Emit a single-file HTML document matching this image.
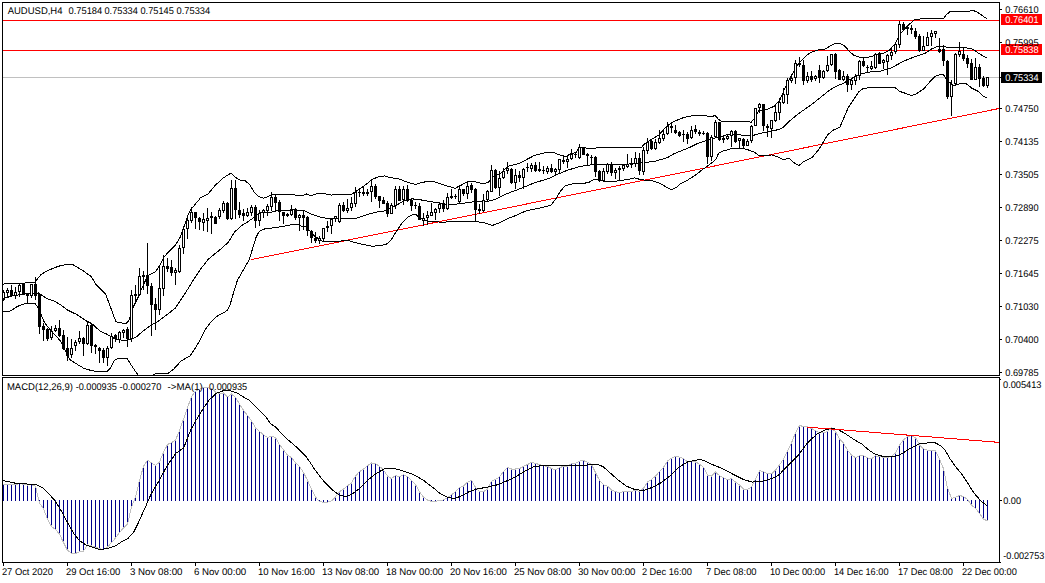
<!DOCTYPE html><html><head><meta charset="utf-8"><title>AUDUSD H4</title>
<style>html,body{margin:0;padding:0;background:#fff}svg{display:block}text{font-family:"Liberation Sans",sans-serif;font-size:9.7px;fill:#000;text-rendering:geometricPrecision}</style></head><body>
<svg width="1045" height="583" viewBox="0 0 1045 583">
<rect width="1045" height="583" fill="#fff"/>
<defs><clipPath id="cm"><rect x="3" y="3" width="996" height="372"/></clipPath><clipPath id="ci"><rect x="3" y="378" width="996" height="184"/></clipPath></defs>
<g shape-rendering="crispEdges">
<g clip-path="url(#cm)">
<line x1="3" y1="77.5" x2="999" y2="77.5" stroke="#c0c0c0"/>
<line x1="3" y1="20.5" x2="999" y2="20.5" stroke="#ff0000"/>
<line x1="3" y1="50.5" x2="999" y2="50.5" stroke="#ff0000"/>
<line x1="251" y1="259.7" x2="999.5" y2="108.4" stroke="#ff0000"/>
<polyline fill="none" stroke="#000" stroke-width="1" points="3,284.2 8,283.4 14,283.9 25,283 35,282 38.4,277.7 41.3,274.3 48,270.5 55,267.5 62,265.2 72,264.2 82.1,270 91.3,276.7 96.4,285 99.9,288.3 105.7,294.3 110.3,306.6 115.7,321.3 118.8,322.8 126.5,323.3 128.8,320.5 131.2,314.3 133.5,306.6 138.1,297.4 141.2,289.6 143.5,285 147.8,275.4 155.5,271.8 160.2,264.9 164,257.1 167.9,252.5 175.6,244.8 180.2,237.1 183.3,229.3 187.2,217 191,209.3 198.8,200 200,198.2 207.7,194.3 215.4,185.1 223.2,178.1 230.9,173 235.5,177.4 240.2,180.1 244.8,180.4 249.4,184.3 254.1,192 258.7,196.7 263.3,198.2 268,196.7 272.6,194 281.9,194 292.7,194.7 301.9,195.9 306.6,194 311.2,195.9 317.4,193.3 323.6,193.6 331.3,195.1 339,194 350.8,194.7 355.4,191.7 364.7,185.5 372.4,179.3 378.6,176.7 384.8,175.9 391,177.8 398.7,178.8 408,182.4 415.7,184.4 423.4,182.1 432.7,181.3 440.4,183.9 448.1,186.3 455.1,188.3 462,184.7 468.2,181.6 474.4,181.6 483.6,183.9 488.3,182.4 492.1,177 500,173.9 507.8,166.4 518.6,163.6 526.3,159.7 534.1,155.6 541.8,153.6 548,152 554.1,152.8 560.3,155.1 566.5,156.7 570.3,153.6 575.8,152.8 578.8,148.2 581.9,147.9 594.3,148.2 597.4,147.9 641.6,147.5 643.9,144.5 650.9,139.8 658.6,135.2 666.3,126.7 672.5,122.1 681.8,118.2 689.5,116.2 697.2,115.1 704.9,115.4 711.1,117.1 715,115.4 718.8,119.7 721.9,121.3 743.6,121.6 751.3,122.1 754.4,118.2 759,110.5 768.3,108.9 774.4,106.2 780.1,99.5 784.7,88.7 789.3,79.4 797.1,65.5 803.2,58.6 809.4,53.2 817.1,50.1 824.9,49.3 831,45.4 835.7,43.1 840.3,43.6 844.9,46.2 849.6,51.6 854.2,55.5 858.8,57 865,57.8 871.2,56.6 877.4,54.4 883.6,53.2 889.3,50.2 895.2,43.8 900.4,33.9 906.8,26.3 913.8,20.5 915,19.3 924.3,18.7 943.6,18.4 946.5,14.7 950,11.7 955.8,11.2 968.6,11.2 972.1,10.6 975.6,11.2 980.3,14.1 986.7,18.7"/>
<polyline fill="none" stroke="#000" stroke-width="1" points="3,301 5,298 12,296 25,294 38.4,293 47.1,298.8 53.8,300.7 60.9,305.1 67.2,309.9 76.3,314.3 87.1,321.3 91.8,323.6 99.5,330.6 107.2,334.4 110.3,336 115,339 122.7,340.3 130.4,339.8 136.6,336.7 142.7,331.3 150.5,325.5 158.2,321.3 164.4,316.7 175.2,308.2 184.4,294.3 187.2,290 194.1,278.8 200.3,269.5 208,259.5 212.7,255.6 220.4,249.4 228.1,242.5 234.3,232.4 240.5,226.3 248.2,221.6 254.4,217 260.2,212.5 268,212.9 275.7,211 280.3,210.6 292.7,209.8 305,211 311.2,214.1 318.9,216.7 328.2,218.7 340,218.5 355.4,218.4 366.3,214.8 378.6,211.7 386.3,210.7 395.6,205.6 404.9,200.5 412.6,198.9 420.3,199.8 432.7,202 440.4,203.2 448.1,204.8 457.4,204 468.2,202.5 475.9,201.4 487,201.5 495.5,199.4 503.2,195.3 510.9,192.2 523.2,187.5 534.1,182.9 549.5,178.3 557.2,174.4 566.5,170.6 578.8,166.7 588.1,165.2 594.3,164.4 625,164.4 644.3,162.7 656,161 667.6,157.5 674.1,153.7 681.8,150.6 689.5,147.5 697.2,143.7 704.9,140.9 714.2,138.3 720.4,136.7 728.1,134.4 737.4,134.1 743.6,135.7 751.3,136 759,133.6 766.7,132.1 774.4,130.6 780,129 783.3,127.4 790.3,120.4 799.6,112.8 809,106.4 814.1,102.6 821.8,96.4 829.5,90.2 835.7,86.4 843.4,83.3 852.7,77.9 860.4,74 871.2,71.7 880,71.2 891.7,67.7 903.3,61.3 915,56.6 924.3,53.7 931.3,49.1 937.1,46.7 943,46.4 950,47.9 959.3,47.9 964,47.3 973.3,49.4 979.1,53.7 986.7,57.8"/>
<polyline fill="none" stroke="#000" stroke-width="1" points="3,311.5 8.6,311.5 12,309.9 17.3,306.5 25.9,303.1 35,303.4 38.4,308.4 41.3,315.1 43.9,321.3 47,326 53.2,332.9 60.9,341.4 68.6,357.6 70.2,359.9 76.3,363.8 84,368.4 91.8,370.7 99.5,371.8 107.2,371.2 110.3,368.4 114.2,360.7 118,358.4 127.3,358.4 130.4,363.8 135,370.7 138.1,375 142,378 150,378 153.6,374.3 158.2,373.3 167.5,373.8 173.6,369.2 181.4,360.7 190,356 195.6,347.6 200,340 205.9,328.7 211,322 216.2,316.7 221,314 226.5,311.5 230,305 234.3,290 237.4,280.3 243.6,269.5 249,260.2 252.8,247.9 255.9,237.8 259,231.7 265.2,228.6 274.4,227.8 280.3,226.8 292.7,224.5 298.8,224.5 301.9,226.8 306.6,226.8 314.3,236 322,241 337.5,241.4 347.7,240.3 355.4,242.6 363.2,244.6 372.4,246.2 380.2,245.7 386.3,244.2 391,240.3 395.6,232.6 401.8,223.3 408,217.1 412.6,214.8 415.7,214 418.8,217.1 424,220 429.6,221.5 437.3,221.8 443.5,222.5 451.2,221 457.4,221.5 475.9,221.5 486.7,223.3 492.1,225.6 500,222.5 508,218.5 517.1,215 526.3,210.7 541.8,207.6 551,205.3 555.7,199.1 560.3,191.4 564.9,186 569.6,184.5 575.8,183.4 588.1,182.9 594.3,179.1 598.9,179.1 603.6,181.4 610.5,181.4 619.8,180.8 629.2,179.1 635,177.9 640.8,179.7 652.5,180.8 660.6,183.7 667.6,187.8 671.7,189.6 675.8,187.8 680.5,183.7 687.5,180.2 695.6,175 701.5,170.3 707.3,166.2 712.7,162.2 715.8,159.1 718.8,153 721.9,151.4 728.1,149.6 732.7,148.3 742,148.3 748.2,149.9 754.4,152.2 759,155.7 763.6,155.3 771.7,155 777.5,156.6 783.3,159.5 789.2,158.3 795,163.6 799.1,165.3 804.3,161.2 811.9,157.7 818.3,150.1 823,142.6 827.6,135 832.3,130.6 839.9,127.1 844,117.5 848.6,107 852.7,101 858.8,91.8 863.5,88.4 871.2,87.5 883.6,87.5 895.3,87.7 899.6,91.4 906,93.5 911.3,95.6 915.5,94.3 924,88.7 929.4,82.3 935.7,76 943.2,74 945.3,77.6 949,82 953.8,85.5 959.1,83.9 965.5,83.2 971.9,88.2 978.3,91.4 983.6,96.7 986.8,97.4"/>
<rect x="3" y="290" width="1" height="11" fill="#000"/>
<rect x="2" y="292" width="3" height="7" fill="#000"/>
<rect x="3" y="293" width="1" height="5" fill="#fff"/>
<rect x="7" y="288" width="1" height="9" fill="#000"/>
<rect x="6" y="290" width="3" height="3" fill="#000"/>
<rect x="7" y="291" width="1" height="1" fill="#fff"/>
<rect x="11" y="285" width="1" height="12" fill="#000"/>
<rect x="10" y="290" width="3" height="6" fill="#000"/>
<rect x="15" y="287" width="1" height="12" fill="#000"/>
<rect x="14" y="292" width="3" height="4" fill="#000"/>
<rect x="15" y="293" width="1" height="2" fill="#fff"/>
<rect x="19" y="284" width="1" height="13" fill="#000"/>
<rect x="18" y="285" width="3" height="7" fill="#000"/>
<rect x="19" y="286" width="1" height="5" fill="#fff"/>
<rect x="23" y="284" width="1" height="10" fill="#000"/>
<rect x="22" y="284" width="3" height="10" fill="#000"/>
<rect x="27" y="293" width="1" height="10" fill="#000"/>
<rect x="26" y="294" width="3" height="2" fill="#000"/>
<rect x="31" y="284" width="1" height="14" fill="#000"/>
<rect x="30" y="284" width="3" height="12" fill="#000"/>
<rect x="31" y="285" width="1" height="10" fill="#fff"/>
<rect x="35" y="277" width="1" height="23" fill="#000"/>
<rect x="34" y="284" width="3" height="12" fill="#000"/>
<rect x="39" y="294" width="1" height="40" fill="#000"/>
<rect x="38" y="294" width="3" height="33" fill="#000"/>
<rect x="43" y="323" width="1" height="18" fill="#000"/>
<rect x="42" y="326" width="3" height="4" fill="#000"/>
<rect x="47" y="328" width="1" height="13" fill="#000"/>
<rect x="46" y="329" width="3" height="10" fill="#000"/>
<rect x="51" y="326" width="1" height="14" fill="#000"/>
<rect x="50" y="331" width="3" height="7" fill="#000"/>
<rect x="51" y="332" width="1" height="5" fill="#fff"/>
<rect x="55" y="325" width="1" height="7" fill="#000"/>
<rect x="54" y="328" width="3" height="3" fill="#000"/>
<rect x="55" y="329" width="1" height="1" fill="#fff"/>
<rect x="59" y="320" width="1" height="17" fill="#000"/>
<rect x="58" y="328" width="3" height="8" fill="#000"/>
<rect x="63" y="330" width="1" height="20" fill="#000"/>
<rect x="62" y="335" width="3" height="14" fill="#000"/>
<rect x="67" y="337" width="1" height="24" fill="#000"/>
<rect x="66" y="348" width="3" height="8" fill="#000"/>
<rect x="71" y="339" width="1" height="19" fill="#000"/>
<rect x="70" y="348" width="3" height="7" fill="#000"/>
<rect x="71" y="349" width="1" height="5" fill="#fff"/>
<rect x="75" y="340" width="1" height="11" fill="#000"/>
<rect x="74" y="342" width="3" height="4" fill="#000"/>
<rect x="75" y="343" width="1" height="2" fill="#fff"/>
<rect x="79" y="331" width="1" height="13" fill="#000"/>
<rect x="78" y="338" width="3" height="4" fill="#000"/>
<rect x="79" y="339" width="1" height="2" fill="#fff"/>
<rect x="83" y="337" width="1" height="19" fill="#000"/>
<rect x="82" y="338" width="3" height="6" fill="#000"/>
<rect x="87" y="322" width="1" height="23" fill="#000"/>
<rect x="86" y="325" width="3" height="19" fill="#000"/>
<rect x="87" y="326" width="1" height="17" fill="#fff"/>
<rect x="91" y="324" width="1" height="29" fill="#000"/>
<rect x="90" y="325" width="3" height="21" fill="#000"/>
<rect x="95" y="344" width="1" height="10" fill="#000"/>
<rect x="94" y="345" width="3" height="2" fill="#000"/>
<rect x="99" y="347" width="1" height="16" fill="#000"/>
<rect x="98" y="348" width="3" height="3" fill="#000"/>
<rect x="103" y="348" width="1" height="15" fill="#000"/>
<rect x="102" y="350" width="3" height="8" fill="#000"/>
<rect x="107" y="346" width="1" height="20" fill="#000"/>
<rect x="106" y="348" width="3" height="10" fill="#000"/>
<rect x="107" y="349" width="1" height="8" fill="#fff"/>
<rect x="111" y="333" width="1" height="16" fill="#000"/>
<rect x="110" y="336" width="3" height="12" fill="#000"/>
<rect x="111" y="337" width="1" height="10" fill="#fff"/>
<rect x="115" y="334" width="1" height="8" fill="#000"/>
<rect x="114" y="335" width="3" height="4" fill="#000"/>
<rect x="119" y="331" width="1" height="12" fill="#000"/>
<rect x="118" y="332" width="3" height="8" fill="#000"/>
<rect x="119" y="333" width="1" height="6" fill="#fff"/>
<rect x="123" y="329" width="1" height="9" fill="#000"/>
<rect x="122" y="330" width="3" height="3" fill="#000"/>
<rect x="123" y="331" width="1" height="1" fill="#fff"/>
<rect x="127" y="327" width="1" height="20" fill="#000"/>
<rect x="126" y="329" width="3" height="10" fill="#000"/>
<rect x="131" y="290" width="1" height="52" fill="#000"/>
<rect x="130" y="295" width="3" height="44" fill="#000"/>
<rect x="131" y="296" width="1" height="42" fill="#fff"/>
<rect x="135" y="285" width="1" height="17" fill="#000"/>
<rect x="134" y="294" width="3" height="2" fill="#000"/>
<rect x="139" y="268" width="1" height="28" fill="#000"/>
<rect x="138" y="276" width="3" height="19" fill="#000"/>
<rect x="139" y="277" width="1" height="17" fill="#fff"/>
<rect x="143" y="271" width="1" height="19" fill="#000"/>
<rect x="142" y="275" width="3" height="2" fill="#000"/>
<rect x="147" y="243" width="1" height="51" fill="#000"/>
<rect x="146" y="275" width="3" height="11" fill="#000"/>
<rect x="151" y="283" width="1" height="53" fill="#000"/>
<rect x="150" y="286" width="3" height="19" fill="#000"/>
<rect x="155" y="298" width="1" height="32" fill="#000"/>
<rect x="154" y="304" width="3" height="6" fill="#000"/>
<rect x="159" y="266" width="1" height="49" fill="#000"/>
<rect x="158" y="288" width="3" height="22" fill="#000"/>
<rect x="159" y="289" width="1" height="20" fill="#fff"/>
<rect x="163" y="255" width="1" height="41" fill="#000"/>
<rect x="162" y="266" width="3" height="23" fill="#000"/>
<rect x="163" y="267" width="1" height="21" fill="#fff"/>
<rect x="167" y="258" width="1" height="14" fill="#000"/>
<rect x="166" y="266" width="3" height="3" fill="#000"/>
<rect x="171" y="260" width="1" height="16" fill="#000"/>
<rect x="170" y="267" width="3" height="6" fill="#000"/>
<rect x="175" y="268" width="1" height="17" fill="#000"/>
<rect x="174" y="270" width="3" height="3" fill="#000"/>
<rect x="175" y="271" width="1" height="1" fill="#fff"/>
<rect x="179" y="245" width="1" height="28" fill="#000"/>
<rect x="178" y="248" width="3" height="24" fill="#000"/>
<rect x="179" y="249" width="1" height="22" fill="#fff"/>
<rect x="183" y="226" width="1" height="28" fill="#000"/>
<rect x="182" y="229" width="3" height="19" fill="#000"/>
<rect x="183" y="230" width="1" height="17" fill="#fff"/>
<rect x="187" y="215" width="1" height="24" fill="#000"/>
<rect x="186" y="220" width="3" height="9" fill="#000"/>
<rect x="187" y="221" width="1" height="7" fill="#fff"/>
<rect x="191" y="207" width="1" height="16" fill="#000"/>
<rect x="190" y="212" width="3" height="9" fill="#000"/>
<rect x="191" y="213" width="1" height="7" fill="#fff"/>
<rect x="195" y="212" width="1" height="17" fill="#000"/>
<rect x="194" y="212" width="3" height="6" fill="#000"/>
<rect x="199" y="217" width="1" height="13" fill="#000"/>
<rect x="198" y="218" width="3" height="4" fill="#000"/>
<rect x="203" y="213" width="1" height="18" fill="#000"/>
<rect x="202" y="219" width="3" height="4" fill="#000"/>
<rect x="203" y="220" width="1" height="2" fill="#fff"/>
<rect x="207" y="208" width="1" height="24" fill="#000"/>
<rect x="206" y="218" width="3" height="3" fill="#000"/>
<rect x="207" y="219" width="1" height="1" fill="#fff"/>
<rect x="211" y="212" width="1" height="22" fill="#000"/>
<rect x="210" y="216" width="3" height="2" fill="#000"/>
<rect x="215" y="216" width="1" height="8" fill="#000"/>
<rect x="214" y="217" width="3" height="7" fill="#000"/>
<rect x="219" y="208" width="1" height="11" fill="#000"/>
<rect x="218" y="210" width="3" height="7" fill="#000"/>
<rect x="219" y="211" width="1" height="5" fill="#fff"/>
<rect x="223" y="201" width="1" height="12" fill="#000"/>
<rect x="222" y="203" width="3" height="8" fill="#000"/>
<rect x="223" y="204" width="1" height="6" fill="#fff"/>
<rect x="227" y="202" width="1" height="18" fill="#000"/>
<rect x="226" y="203" width="3" height="16" fill="#000"/>
<rect x="231" y="180" width="1" height="40" fill="#000"/>
<rect x="230" y="188" width="3" height="31" fill="#000"/>
<rect x="231" y="189" width="1" height="29" fill="#fff"/>
<rect x="235" y="180" width="1" height="39" fill="#000"/>
<rect x="234" y="188" width="3" height="22" fill="#000"/>
<rect x="239" y="202" width="1" height="16" fill="#000"/>
<rect x="238" y="210" width="3" height="5" fill="#000"/>
<rect x="243" y="209" width="1" height="12" fill="#000"/>
<rect x="242" y="213" width="3" height="3" fill="#000"/>
<rect x="247" y="208" width="1" height="9" fill="#000"/>
<rect x="246" y="212" width="3" height="4" fill="#000"/>
<rect x="247" y="213" width="1" height="2" fill="#fff"/>
<rect x="251" y="205" width="1" height="11" fill="#000"/>
<rect x="250" y="207" width="3" height="6" fill="#000"/>
<rect x="251" y="208" width="1" height="4" fill="#fff"/>
<rect x="255" y="205" width="1" height="23" fill="#000"/>
<rect x="254" y="207" width="3" height="14" fill="#000"/>
<rect x="259" y="210" width="1" height="16" fill="#000"/>
<rect x="258" y="213" width="3" height="8" fill="#000"/>
<rect x="259" y="214" width="1" height="6" fill="#fff"/>
<rect x="263" y="209" width="1" height="9" fill="#000"/>
<rect x="262" y="210" width="3" height="3" fill="#000"/>
<rect x="263" y="211" width="1" height="1" fill="#fff"/>
<rect x="267" y="204" width="1" height="12" fill="#000"/>
<rect x="266" y="206" width="3" height="5" fill="#000"/>
<rect x="267" y="207" width="1" height="3" fill="#fff"/>
<rect x="271" y="192" width="1" height="19" fill="#000"/>
<rect x="270" y="197" width="3" height="10" fill="#000"/>
<rect x="271" y="198" width="1" height="8" fill="#fff"/>
<rect x="275" y="195" width="1" height="16" fill="#000"/>
<rect x="274" y="197" width="3" height="6" fill="#000"/>
<rect x="279" y="200" width="1" height="21" fill="#000"/>
<rect x="278" y="202" width="3" height="10" fill="#000"/>
<rect x="283" y="212" width="1" height="12" fill="#000"/>
<rect x="282" y="212" width="3" height="4" fill="#000"/>
<rect x="287" y="213" width="1" height="4" fill="#000"/>
<rect x="286" y="214" width="3" height="2" fill="#000"/>
<rect x="291" y="205" width="1" height="11" fill="#000"/>
<rect x="290" y="210" width="3" height="5" fill="#000"/>
<rect x="291" y="211" width="1" height="3" fill="#fff"/>
<rect x="295" y="208" width="1" height="12" fill="#000"/>
<rect x="294" y="209" width="3" height="9" fill="#000"/>
<rect x="299" y="214" width="1" height="17" fill="#000"/>
<rect x="298" y="215" width="3" height="3" fill="#000"/>
<rect x="299" y="216" width="1" height="1" fill="#fff"/>
<rect x="303" y="211" width="1" height="19" fill="#000"/>
<rect x="302" y="215" width="3" height="3" fill="#000"/>
<rect x="307" y="216" width="1" height="20" fill="#000"/>
<rect x="306" y="217" width="3" height="14" fill="#000"/>
<rect x="311" y="230" width="1" height="13" fill="#000"/>
<rect x="310" y="231" width="3" height="7" fill="#000"/>
<rect x="315" y="232" width="1" height="11" fill="#000"/>
<rect x="314" y="238" width="3" height="3" fill="#000"/>
<rect x="319" y="236" width="1" height="8" fill="#000"/>
<rect x="318" y="238" width="3" height="3" fill="#000"/>
<rect x="319" y="239" width="1" height="1" fill="#fff"/>
<rect x="323" y="228" width="1" height="13" fill="#000"/>
<rect x="322" y="228" width="3" height="11" fill="#000"/>
<rect x="323" y="229" width="1" height="9" fill="#fff"/>
<rect x="327" y="221" width="1" height="11" fill="#000"/>
<rect x="326" y="226" width="3" height="2" fill="#000"/>
<rect x="331" y="218" width="1" height="16" fill="#000"/>
<rect x="330" y="219" width="3" height="7" fill="#000"/>
<rect x="331" y="220" width="1" height="5" fill="#fff"/>
<rect x="335" y="216" width="1" height="6" fill="#000"/>
<rect x="334" y="216" width="3" height="3" fill="#000"/>
<rect x="335" y="217" width="1" height="1" fill="#fff"/>
<rect x="339" y="203" width="1" height="20" fill="#000"/>
<rect x="338" y="205" width="3" height="17" fill="#000"/>
<rect x="339" y="206" width="1" height="15" fill="#fff"/>
<rect x="343" y="202" width="1" height="10" fill="#000"/>
<rect x="342" y="205" width="3" height="6" fill="#000"/>
<rect x="347" y="199" width="1" height="14" fill="#000"/>
<rect x="346" y="208" width="3" height="3" fill="#000"/>
<rect x="347" y="209" width="1" height="1" fill="#fff"/>
<rect x="351" y="197" width="1" height="14" fill="#000"/>
<rect x="350" y="203" width="3" height="5" fill="#000"/>
<rect x="351" y="204" width="1" height="3" fill="#fff"/>
<rect x="355" y="187" width="1" height="20" fill="#000"/>
<rect x="354" y="192" width="3" height="12" fill="#000"/>
<rect x="355" y="193" width="1" height="10" fill="#fff"/>
<rect x="359" y="190" width="1" height="7" fill="#000"/>
<rect x="358" y="192" width="3" height="1" fill="#000"/>
<rect x="363" y="186" width="1" height="10" fill="#000"/>
<rect x="362" y="192" width="3" height="2" fill="#000"/>
<rect x="367" y="189" width="1" height="7" fill="#000"/>
<rect x="366" y="192" width="3" height="2" fill="#000"/>
<rect x="371" y="181" width="1" height="21" fill="#000"/>
<rect x="370" y="186" width="3" height="6" fill="#000"/>
<rect x="371" y="187" width="1" height="4" fill="#fff"/>
<rect x="375" y="184" width="1" height="15" fill="#000"/>
<rect x="374" y="186" width="3" height="11" fill="#000"/>
<rect x="379" y="196" width="1" height="12" fill="#000"/>
<rect x="378" y="196" width="3" height="5" fill="#000"/>
<rect x="383" y="197" width="1" height="7" fill="#000"/>
<rect x="382" y="200" width="3" height="4" fill="#000"/>
<rect x="387" y="201" width="1" height="16" fill="#000"/>
<rect x="386" y="203" width="3" height="11" fill="#000"/>
<rect x="391" y="203" width="1" height="11" fill="#000"/>
<rect x="390" y="205" width="3" height="9" fill="#000"/>
<rect x="391" y="206" width="1" height="7" fill="#fff"/>
<rect x="395" y="186" width="1" height="23" fill="#000"/>
<rect x="394" y="189" width="3" height="17" fill="#000"/>
<rect x="395" y="190" width="1" height="15" fill="#fff"/>
<rect x="399" y="186" width="1" height="15" fill="#000"/>
<rect x="398" y="189" width="3" height="12" fill="#000"/>
<rect x="403" y="186" width="1" height="19" fill="#000"/>
<rect x="402" y="189" width="3" height="11" fill="#000"/>
<rect x="403" y="190" width="1" height="9" fill="#fff"/>
<rect x="407" y="185" width="1" height="17" fill="#000"/>
<rect x="406" y="189" width="3" height="12" fill="#000"/>
<rect x="411" y="198" width="1" height="13" fill="#000"/>
<rect x="410" y="200" width="3" height="6" fill="#000"/>
<rect x="415" y="202" width="1" height="7" fill="#000"/>
<rect x="414" y="205" width="3" height="1" fill="#000"/>
<rect x="419" y="203" width="1" height="17" fill="#000"/>
<rect x="418" y="206" width="3" height="14" fill="#000"/>
<rect x="423" y="213" width="1" height="13" fill="#000"/>
<rect x="422" y="218" width="3" height="3" fill="#000"/>
<rect x="423" y="219" width="1" height="1" fill="#fff"/>
<rect x="427" y="211" width="1" height="14" fill="#000"/>
<rect x="426" y="215" width="3" height="3" fill="#000"/>
<rect x="427" y="216" width="1" height="1" fill="#fff"/>
<rect x="431" y="203" width="1" height="13" fill="#000"/>
<rect x="430" y="212" width="3" height="4" fill="#000"/>
<rect x="431" y="213" width="1" height="2" fill="#fff"/>
<rect x="435" y="208" width="1" height="12" fill="#000"/>
<rect x="434" y="209" width="3" height="4" fill="#000"/>
<rect x="435" y="210" width="1" height="2" fill="#fff"/>
<rect x="439" y="202" width="1" height="11" fill="#000"/>
<rect x="438" y="204" width="3" height="5" fill="#000"/>
<rect x="439" y="205" width="1" height="3" fill="#fff"/>
<rect x="443" y="200" width="1" height="12" fill="#000"/>
<rect x="442" y="203" width="3" height="6" fill="#000"/>
<rect x="447" y="193" width="1" height="17" fill="#000"/>
<rect x="446" y="197" width="3" height="12" fill="#000"/>
<rect x="447" y="198" width="1" height="10" fill="#fff"/>
<rect x="451" y="189" width="1" height="10" fill="#000"/>
<rect x="450" y="196" width="3" height="2" fill="#000"/>
<rect x="455" y="194" width="1" height="5" fill="#000"/>
<rect x="454" y="196" width="3" height="1" fill="#000"/>
<rect x="459" y="186" width="1" height="18" fill="#000"/>
<rect x="458" y="189" width="3" height="13" fill="#000"/>
<rect x="459" y="190" width="1" height="11" fill="#fff"/>
<rect x="463" y="189" width="1" height="7" fill="#000"/>
<rect x="462" y="189" width="3" height="5" fill="#000"/>
<rect x="467" y="181" width="1" height="18" fill="#000"/>
<rect x="466" y="186" width="3" height="8" fill="#000"/>
<rect x="467" y="187" width="1" height="6" fill="#fff"/>
<rect x="471" y="183" width="1" height="10" fill="#000"/>
<rect x="470" y="185" width="3" height="5" fill="#000"/>
<rect x="475" y="188" width="1" height="34" fill="#000"/>
<rect x="474" y="189" width="3" height="21" fill="#000"/>
<rect x="479" y="204" width="1" height="10" fill="#000"/>
<rect x="478" y="209" width="3" height="2" fill="#000"/>
<rect x="483" y="194" width="1" height="18" fill="#000"/>
<rect x="482" y="200" width="3" height="11" fill="#000"/>
<rect x="483" y="201" width="1" height="9" fill="#fff"/>
<rect x="487" y="190" width="1" height="11" fill="#000"/>
<rect x="486" y="191" width="3" height="9" fill="#000"/>
<rect x="487" y="192" width="1" height="7" fill="#fff"/>
<rect x="491" y="165" width="1" height="27" fill="#000"/>
<rect x="490" y="170" width="3" height="22" fill="#000"/>
<rect x="491" y="171" width="1" height="20" fill="#fff"/>
<rect x="495" y="169" width="1" height="20" fill="#000"/>
<rect x="494" y="170" width="3" height="18" fill="#000"/>
<rect x="499" y="171" width="1" height="25" fill="#000"/>
<rect x="498" y="178" width="3" height="10" fill="#000"/>
<rect x="499" y="179" width="1" height="8" fill="#fff"/>
<rect x="503" y="168" width="1" height="11" fill="#000"/>
<rect x="502" y="171" width="3" height="7" fill="#000"/>
<rect x="503" y="172" width="1" height="5" fill="#fff"/>
<rect x="507" y="162" width="1" height="12" fill="#000"/>
<rect x="506" y="168" width="3" height="3" fill="#000"/>
<rect x="507" y="169" width="1" height="1" fill="#fff"/>
<rect x="511" y="168" width="1" height="16" fill="#000"/>
<rect x="510" y="169" width="3" height="14" fill="#000"/>
<rect x="515" y="169" width="1" height="20" fill="#000"/>
<rect x="514" y="175" width="3" height="8" fill="#000"/>
<rect x="515" y="176" width="1" height="6" fill="#fff"/>
<rect x="519" y="171" width="1" height="11" fill="#000"/>
<rect x="518" y="175" width="3" height="3" fill="#000"/>
<rect x="523" y="168" width="1" height="21" fill="#000"/>
<rect x="522" y="169" width="3" height="9" fill="#000"/>
<rect x="523" y="170" width="1" height="7" fill="#fff"/>
<rect x="527" y="163" width="1" height="9" fill="#000"/>
<rect x="526" y="167" width="3" height="1" fill="#000"/>
<rect x="531" y="163" width="1" height="9" fill="#000"/>
<rect x="530" y="165" width="3" height="4" fill="#000"/>
<rect x="531" y="166" width="1" height="2" fill="#fff"/>
<rect x="535" y="162" width="1" height="10" fill="#000"/>
<rect x="534" y="165" width="3" height="6" fill="#000"/>
<rect x="539" y="162" width="1" height="10" fill="#000"/>
<rect x="538" y="169" width="3" height="2" fill="#000"/>
<rect x="543" y="166" width="1" height="8" fill="#000"/>
<rect x="542" y="170" width="3" height="1" fill="#000"/>
<rect x="547" y="166" width="1" height="8" fill="#000"/>
<rect x="546" y="168" width="3" height="4" fill="#000"/>
<rect x="547" y="169" width="1" height="2" fill="#fff"/>
<rect x="551" y="164" width="1" height="9" fill="#000"/>
<rect x="550" y="168" width="3" height="4" fill="#000"/>
<rect x="555" y="168" width="1" height="7" fill="#000"/>
<rect x="554" y="169" width="3" height="3" fill="#000"/>
<rect x="555" y="170" width="1" height="1" fill="#fff"/>
<rect x="559" y="159" width="1" height="15" fill="#000"/>
<rect x="558" y="159" width="3" height="11" fill="#000"/>
<rect x="559" y="160" width="1" height="9" fill="#fff"/>
<rect x="563" y="156" width="1" height="8" fill="#000"/>
<rect x="562" y="160" width="3" height="2" fill="#000"/>
<rect x="567" y="157" width="1" height="11" fill="#000"/>
<rect x="566" y="159" width="3" height="3" fill="#000"/>
<rect x="567" y="160" width="1" height="1" fill="#fff"/>
<rect x="571" y="149" width="1" height="11" fill="#000"/>
<rect x="570" y="154" width="3" height="5" fill="#000"/>
<rect x="571" y="155" width="1" height="3" fill="#fff"/>
<rect x="575" y="152" width="1" height="6" fill="#000"/>
<rect x="574" y="154" width="3" height="1" fill="#000"/>
<rect x="579" y="144" width="1" height="15" fill="#000"/>
<rect x="578" y="147" width="3" height="11" fill="#000"/>
<rect x="579" y="148" width="1" height="9" fill="#fff"/>
<rect x="583" y="147" width="1" height="8" fill="#000"/>
<rect x="582" y="147" width="3" height="8" fill="#000"/>
<rect x="587" y="153" width="1" height="12" fill="#000"/>
<rect x="586" y="154" width="3" height="2" fill="#000"/>
<rect x="591" y="155" width="1" height="9" fill="#000"/>
<rect x="590" y="157" width="3" height="1" fill="#000"/>
<rect x="595" y="156" width="1" height="21" fill="#000"/>
<rect x="594" y="157" width="3" height="15" fill="#000"/>
<rect x="599" y="170" width="1" height="12" fill="#000"/>
<rect x="598" y="171" width="3" height="10" fill="#000"/>
<rect x="603" y="168" width="1" height="14" fill="#000"/>
<rect x="602" y="171" width="3" height="10" fill="#000"/>
<rect x="603" y="172" width="1" height="8" fill="#fff"/>
<rect x="607" y="163" width="1" height="11" fill="#000"/>
<rect x="606" y="164" width="3" height="8" fill="#000"/>
<rect x="607" y="165" width="1" height="6" fill="#fff"/>
<rect x="611" y="162" width="1" height="14" fill="#000"/>
<rect x="610" y="164" width="3" height="9" fill="#000"/>
<rect x="615" y="168" width="1" height="11" fill="#000"/>
<rect x="614" y="170" width="3" height="3" fill="#000"/>
<rect x="615" y="171" width="1" height="1" fill="#fff"/>
<rect x="619" y="166" width="1" height="14" fill="#000"/>
<rect x="618" y="168" width="3" height="2" fill="#000"/>
<rect x="623" y="164" width="1" height="7" fill="#000"/>
<rect x="622" y="165" width="3" height="4" fill="#000"/>
<rect x="623" y="166" width="1" height="2" fill="#fff"/>
<rect x="627" y="154" width="1" height="14" fill="#000"/>
<rect x="626" y="164" width="3" height="3" fill="#000"/>
<rect x="627" y="165" width="1" height="1" fill="#fff"/>
<rect x="631" y="158" width="1" height="10" fill="#000"/>
<rect x="630" y="163" width="3" height="2" fill="#000"/>
<rect x="635" y="152" width="1" height="15" fill="#000"/>
<rect x="634" y="158" width="3" height="6" fill="#000"/>
<rect x="635" y="159" width="1" height="4" fill="#fff"/>
<rect x="639" y="153" width="1" height="22" fill="#000"/>
<rect x="638" y="158" width="3" height="13" fill="#000"/>
<rect x="643" y="147" width="1" height="28" fill="#000"/>
<rect x="642" y="150" width="3" height="22" fill="#000"/>
<rect x="643" y="151" width="1" height="20" fill="#fff"/>
<rect x="647" y="138" width="1" height="16" fill="#000"/>
<rect x="646" y="142" width="3" height="9" fill="#000"/>
<rect x="647" y="143" width="1" height="7" fill="#fff"/>
<rect x="651" y="139" width="1" height="11" fill="#000"/>
<rect x="650" y="141" width="3" height="8" fill="#000"/>
<rect x="655" y="139" width="1" height="11" fill="#000"/>
<rect x="654" y="142" width="3" height="7" fill="#000"/>
<rect x="655" y="143" width="1" height="5" fill="#fff"/>
<rect x="659" y="130" width="1" height="14" fill="#000"/>
<rect x="658" y="138" width="3" height="5" fill="#000"/>
<rect x="659" y="139" width="1" height="3" fill="#fff"/>
<rect x="663" y="130" width="1" height="11" fill="#000"/>
<rect x="662" y="134" width="3" height="5" fill="#000"/>
<rect x="663" y="135" width="1" height="3" fill="#fff"/>
<rect x="667" y="122" width="1" height="13" fill="#000"/>
<rect x="666" y="126" width="3" height="8" fill="#000"/>
<rect x="667" y="127" width="1" height="6" fill="#fff"/>
<rect x="671" y="122" width="1" height="11" fill="#000"/>
<rect x="670" y="126" width="3" height="2" fill="#000"/>
<rect x="675" y="125" width="1" height="9" fill="#000"/>
<rect x="674" y="130" width="3" height="3" fill="#000"/>
<rect x="679" y="131" width="1" height="6" fill="#000"/>
<rect x="678" y="132" width="3" height="4" fill="#000"/>
<rect x="683" y="130" width="1" height="12" fill="#000"/>
<rect x="682" y="134" width="3" height="1" fill="#000"/>
<rect x="687" y="132" width="1" height="12" fill="#000"/>
<rect x="686" y="134" width="3" height="5" fill="#000"/>
<rect x="691" y="126" width="1" height="13" fill="#000"/>
<rect x="690" y="130" width="3" height="8" fill="#000"/>
<rect x="691" y="131" width="1" height="6" fill="#fff"/>
<rect x="695" y="125" width="1" height="9" fill="#000"/>
<rect x="694" y="129" width="3" height="3" fill="#000"/>
<rect x="699" y="130" width="1" height="6" fill="#000"/>
<rect x="698" y="132" width="3" height="2" fill="#000"/>
<rect x="703" y="131" width="1" height="4" fill="#000"/>
<rect x="702" y="133" width="3" height="1" fill="#000"/>
<rect x="707" y="132" width="1" height="32" fill="#000"/>
<rect x="706" y="133" width="3" height="24" fill="#000"/>
<rect x="711" y="135" width="1" height="26" fill="#000"/>
<rect x="710" y="137" width="3" height="20" fill="#000"/>
<rect x="711" y="138" width="1" height="18" fill="#fff"/>
<rect x="715" y="120" width="1" height="18" fill="#000"/>
<rect x="714" y="122" width="3" height="15" fill="#000"/>
<rect x="715" y="123" width="1" height="13" fill="#fff"/>
<rect x="719" y="122" width="1" height="19" fill="#000"/>
<rect x="718" y="122" width="3" height="18" fill="#000"/>
<rect x="723" y="135" width="1" height="8" fill="#000"/>
<rect x="722" y="138" width="3" height="2" fill="#000"/>
<rect x="727" y="134" width="1" height="6" fill="#000"/>
<rect x="726" y="136" width="3" height="3" fill="#000"/>
<rect x="727" y="137" width="1" height="1" fill="#fff"/>
<rect x="731" y="130" width="1" height="17" fill="#000"/>
<rect x="730" y="131" width="3" height="5" fill="#000"/>
<rect x="731" y="132" width="1" height="3" fill="#fff"/>
<rect x="735" y="130" width="1" height="13" fill="#000"/>
<rect x="734" y="131" width="3" height="11" fill="#000"/>
<rect x="739" y="138" width="1" height="10" fill="#000"/>
<rect x="738" y="138" width="3" height="3" fill="#000"/>
<rect x="739" y="139" width="1" height="1" fill="#fff"/>
<rect x="743" y="138" width="1" height="10" fill="#000"/>
<rect x="742" y="139" width="3" height="7" fill="#000"/>
<rect x="747" y="139" width="1" height="7" fill="#000"/>
<rect x="746" y="141" width="3" height="5" fill="#000"/>
<rect x="747" y="142" width="1" height="3" fill="#fff"/>
<rect x="751" y="125" width="1" height="18" fill="#000"/>
<rect x="750" y="126" width="3" height="15" fill="#000"/>
<rect x="751" y="127" width="1" height="13" fill="#fff"/>
<rect x="755" y="108" width="1" height="18" fill="#000"/>
<rect x="754" y="108" width="3" height="18" fill="#000"/>
<rect x="755" y="109" width="1" height="16" fill="#fff"/>
<rect x="759" y="103" width="1" height="10" fill="#000"/>
<rect x="758" y="104" width="3" height="4" fill="#000"/>
<rect x="759" y="105" width="1" height="2" fill="#fff"/>
<rect x="763" y="104" width="1" height="27" fill="#000"/>
<rect x="762" y="104" width="3" height="22" fill="#000"/>
<rect x="767" y="124" width="1" height="13" fill="#000"/>
<rect x="766" y="126" width="3" height="2" fill="#000"/>
<rect x="771" y="120" width="1" height="18" fill="#000"/>
<rect x="770" y="120" width="3" height="9" fill="#000"/>
<rect x="771" y="121" width="1" height="7" fill="#fff"/>
<rect x="775" y="106" width="1" height="16" fill="#000"/>
<rect x="774" y="112" width="3" height="9" fill="#000"/>
<rect x="775" y="113" width="1" height="7" fill="#fff"/>
<rect x="779" y="98" width="1" height="22" fill="#000"/>
<rect x="778" y="102" width="3" height="11" fill="#000"/>
<rect x="779" y="103" width="1" height="9" fill="#fff"/>
<rect x="783" y="88" width="1" height="16" fill="#000"/>
<rect x="782" y="94" width="3" height="9" fill="#000"/>
<rect x="783" y="95" width="1" height="7" fill="#fff"/>
<rect x="787" y="78" width="1" height="26" fill="#000"/>
<rect x="786" y="80" width="3" height="15" fill="#000"/>
<rect x="787" y="81" width="1" height="13" fill="#fff"/>
<rect x="791" y="74" width="1" height="9" fill="#000"/>
<rect x="790" y="78" width="3" height="3" fill="#000"/>
<rect x="791" y="79" width="1" height="1" fill="#fff"/>
<rect x="795" y="60" width="1" height="24" fill="#000"/>
<rect x="794" y="63" width="3" height="15" fill="#000"/>
<rect x="795" y="64" width="1" height="13" fill="#fff"/>
<rect x="799" y="57" width="1" height="10" fill="#000"/>
<rect x="798" y="63" width="3" height="2" fill="#000"/>
<rect x="803" y="60" width="1" height="25" fill="#000"/>
<rect x="802" y="65" width="3" height="16" fill="#000"/>
<rect x="807" y="72" width="1" height="11" fill="#000"/>
<rect x="806" y="76" width="3" height="5" fill="#000"/>
<rect x="807" y="77" width="1" height="3" fill="#fff"/>
<rect x="811" y="71" width="1" height="11" fill="#000"/>
<rect x="810" y="76" width="3" height="4" fill="#000"/>
<rect x="815" y="75" width="1" height="6" fill="#000"/>
<rect x="814" y="76" width="3" height="3" fill="#000"/>
<rect x="815" y="77" width="1" height="1" fill="#fff"/>
<rect x="819" y="65" width="1" height="18" fill="#000"/>
<rect x="818" y="70" width="3" height="8" fill="#000"/>
<rect x="823" y="70" width="1" height="9" fill="#000"/>
<rect x="822" y="71" width="3" height="7" fill="#000"/>
<rect x="823" y="72" width="1" height="5" fill="#fff"/>
<rect x="827" y="56" width="1" height="16" fill="#000"/>
<rect x="826" y="65" width="3" height="6" fill="#000"/>
<rect x="827" y="66" width="1" height="4" fill="#fff"/>
<rect x="831" y="54" width="1" height="12" fill="#000"/>
<rect x="830" y="54" width="3" height="11" fill="#000"/>
<rect x="831" y="55" width="1" height="9" fill="#fff"/>
<rect x="835" y="53" width="1" height="26" fill="#000"/>
<rect x="834" y="54" width="3" height="18" fill="#000"/>
<rect x="839" y="69" width="1" height="11" fill="#000"/>
<rect x="838" y="70" width="3" height="10" fill="#000"/>
<rect x="843" y="71" width="1" height="10" fill="#000"/>
<rect x="842" y="76" width="3" height="4" fill="#000"/>
<rect x="843" y="77" width="1" height="2" fill="#fff"/>
<rect x="847" y="74" width="1" height="18" fill="#000"/>
<rect x="846" y="76" width="3" height="9" fill="#000"/>
<rect x="851" y="78" width="1" height="12" fill="#000"/>
<rect x="850" y="80" width="3" height="5" fill="#000"/>
<rect x="851" y="81" width="1" height="3" fill="#fff"/>
<rect x="855" y="74" width="1" height="11" fill="#000"/>
<rect x="854" y="76" width="3" height="5" fill="#000"/>
<rect x="855" y="77" width="1" height="3" fill="#fff"/>
<rect x="859" y="60" width="1" height="20" fill="#000"/>
<rect x="858" y="61" width="3" height="15" fill="#000"/>
<rect x="859" y="62" width="1" height="13" fill="#fff"/>
<rect x="863" y="58" width="1" height="9" fill="#000"/>
<rect x="862" y="61" width="3" height="5" fill="#000"/>
<rect x="867" y="65" width="1" height="7" fill="#000"/>
<rect x="866" y="67" width="3" height="1" fill="#000"/>
<rect x="871" y="61" width="1" height="9" fill="#000"/>
<rect x="870" y="66" width="3" height="3" fill="#000"/>
<rect x="871" y="67" width="1" height="1" fill="#fff"/>
<rect x="875" y="53" width="1" height="16" fill="#000"/>
<rect x="874" y="54" width="3" height="14" fill="#000"/>
<rect x="875" y="55" width="1" height="12" fill="#fff"/>
<rect x="879" y="52" width="1" height="12" fill="#000"/>
<rect x="878" y="53" width="3" height="11" fill="#000"/>
<rect x="883" y="59" width="1" height="10" fill="#000"/>
<rect x="882" y="60" width="3" height="3" fill="#000"/>
<rect x="883" y="61" width="1" height="1" fill="#fff"/>
<rect x="887" y="54" width="1" height="21" fill="#000"/>
<rect x="886" y="55" width="3" height="7" fill="#000"/>
<rect x="887" y="56" width="1" height="5" fill="#fff"/>
<rect x="891" y="47" width="1" height="13" fill="#000"/>
<rect x="890" y="52" width="3" height="4" fill="#000"/>
<rect x="891" y="53" width="1" height="2" fill="#fff"/>
<rect x="895" y="43" width="1" height="11" fill="#000"/>
<rect x="894" y="44" width="3" height="8" fill="#000"/>
<rect x="895" y="45" width="1" height="6" fill="#fff"/>
<rect x="899" y="21" width="1" height="27" fill="#000"/>
<rect x="898" y="24" width="3" height="21" fill="#000"/>
<rect x="899" y="25" width="1" height="19" fill="#fff"/>
<rect x="903" y="22" width="1" height="9" fill="#000"/>
<rect x="902" y="24" width="3" height="6" fill="#000"/>
<rect x="907" y="25" width="1" height="10" fill="#000"/>
<rect x="906" y="27" width="3" height="2" fill="#000"/>
<rect x="911" y="25" width="1" height="9" fill="#000"/>
<rect x="910" y="28" width="3" height="2" fill="#000"/>
<rect x="915" y="28" width="1" height="11" fill="#000"/>
<rect x="914" y="31" width="3" height="6" fill="#000"/>
<rect x="919" y="34" width="1" height="18" fill="#000"/>
<rect x="918" y="36" width="3" height="15" fill="#000"/>
<rect x="923" y="36" width="1" height="15" fill="#000"/>
<rect x="922" y="46" width="3" height="5" fill="#000"/>
<rect x="923" y="47" width="1" height="3" fill="#fff"/>
<rect x="927" y="32" width="1" height="14" fill="#000"/>
<rect x="926" y="37" width="3" height="9" fill="#000"/>
<rect x="927" y="38" width="1" height="7" fill="#fff"/>
<rect x="931" y="30" width="1" height="16" fill="#000"/>
<rect x="930" y="33" width="3" height="4" fill="#000"/>
<rect x="931" y="34" width="1" height="2" fill="#fff"/>
<rect x="935" y="31" width="1" height="7" fill="#000"/>
<rect x="934" y="31" width="3" height="3" fill="#000"/>
<rect x="935" y="32" width="1" height="1" fill="#fff"/>
<rect x="939" y="38" width="1" height="15" fill="#000"/>
<rect x="938" y="49" width="3" height="3" fill="#000"/>
<rect x="943" y="45" width="1" height="21" fill="#000"/>
<rect x="942" y="49" width="3" height="12" fill="#000"/>
<rect x="947" y="60" width="1" height="39" fill="#000"/>
<rect x="946" y="61" width="3" height="36" fill="#000"/>
<rect x="951" y="80" width="1" height="36" fill="#000"/>
<rect x="950" y="84" width="3" height="13" fill="#000"/>
<rect x="951" y="85" width="1" height="11" fill="#fff"/>
<rect x="955" y="53" width="1" height="31" fill="#000"/>
<rect x="954" y="54" width="3" height="30" fill="#000"/>
<rect x="955" y="55" width="1" height="28" fill="#fff"/>
<rect x="959" y="42" width="1" height="15" fill="#000"/>
<rect x="958" y="51" width="3" height="4" fill="#000"/>
<rect x="959" y="52" width="1" height="2" fill="#fff"/>
<rect x="963" y="48" width="1" height="13" fill="#000"/>
<rect x="962" y="54" width="3" height="5" fill="#000"/>
<rect x="967" y="55" width="1" height="13" fill="#000"/>
<rect x="966" y="58" width="3" height="6" fill="#000"/>
<rect x="971" y="59" width="1" height="21" fill="#000"/>
<rect x="970" y="63" width="3" height="17" fill="#000"/>
<rect x="975" y="58" width="1" height="22" fill="#000"/>
<rect x="974" y="67" width="3" height="13" fill="#000"/>
<rect x="975" y="68" width="1" height="11" fill="#fff"/>
<rect x="979" y="64" width="1" height="23" fill="#000"/>
<rect x="978" y="67" width="3" height="12" fill="#000"/>
<rect x="983" y="76" width="1" height="11" fill="#000"/>
<rect x="982" y="78" width="3" height="8" fill="#000"/>
<rect x="987" y="77" width="1" height="11" fill="#000"/>
<rect x="986" y="77" width="3" height="9" fill="#000"/>
<rect x="987" y="78" width="1" height="7" fill="#fff"/>
</g>
<g clip-path="url(#ci)">
<rect x="3" y="485" width="1" height="16" fill="#00008b"/>
<rect x="7" y="484" width="1" height="17" fill="#00008b"/>
<rect x="11" y="485" width="1" height="16" fill="#00008b"/>
<rect x="15" y="484" width="1" height="17" fill="#00008b"/>
<rect x="19" y="484" width="1" height="17" fill="#00008b"/>
<rect x="23" y="484" width="1" height="17" fill="#00008b"/>
<rect x="27" y="485" width="1" height="16" fill="#00008b"/>
<rect x="31" y="485" width="1" height="16" fill="#00008b"/>
<rect x="35" y="486" width="1" height="15" fill="#00008b"/>
<rect x="39" y="500" width="1" height="3" fill="#00008b"/>
<rect x="43" y="500" width="1" height="9" fill="#00008b"/>
<rect x="47" y="500" width="1" height="19" fill="#00008b"/>
<rect x="51" y="500" width="1" height="26" fill="#00008b"/>
<rect x="55" y="500" width="1" height="30" fill="#00008b"/>
<rect x="59" y="500" width="1" height="34" fill="#00008b"/>
<rect x="63" y="500" width="1" height="43" fill="#00008b"/>
<rect x="67" y="500" width="1" height="50" fill="#00008b"/>
<rect x="71" y="500" width="1" height="53" fill="#00008b"/>
<rect x="75" y="500" width="1" height="53" fill="#00008b"/>
<rect x="79" y="500" width="1" height="52" fill="#00008b"/>
<rect x="83" y="500" width="1" height="51" fill="#00008b"/>
<rect x="87" y="500" width="1" height="45" fill="#00008b"/>
<rect x="91" y="500" width="1" height="46" fill="#00008b"/>
<rect x="95" y="500" width="1" height="47" fill="#00008b"/>
<rect x="99" y="500" width="1" height="49" fill="#00008b"/>
<rect x="103" y="500" width="1" height="50" fill="#00008b"/>
<rect x="107" y="500" width="1" height="47" fill="#00008b"/>
<rect x="111" y="500" width="1" height="43" fill="#00008b"/>
<rect x="115" y="500" width="1" height="38" fill="#00008b"/>
<rect x="119" y="500" width="1" height="32" fill="#00008b"/>
<rect x="123" y="500" width="1" height="28" fill="#00008b"/>
<rect x="127" y="500" width="1" height="24" fill="#00008b"/>
<rect x="131" y="500" width="1" height="7" fill="#00008b"/>
<rect x="135" y="497" width="1" height="4" fill="#00008b"/>
<rect x="139" y="480" width="1" height="21" fill="#00008b"/>
<rect x="143" y="466" width="1" height="35" fill="#00008b"/>
<rect x="147" y="460" width="1" height="41" fill="#00008b"/>
<rect x="151" y="463" width="1" height="38" fill="#00008b"/>
<rect x="155" y="466" width="1" height="35" fill="#00008b"/>
<rect x="159" y="462" width="1" height="39" fill="#00008b"/>
<rect x="163" y="452" width="1" height="49" fill="#00008b"/>
<rect x="167" y="444" width="1" height="57" fill="#00008b"/>
<rect x="171" y="443" width="1" height="58" fill="#00008b"/>
<rect x="175" y="440" width="1" height="61" fill="#00008b"/>
<rect x="179" y="430" width="1" height="71" fill="#00008b"/>
<rect x="183" y="419" width="1" height="82" fill="#00008b"/>
<rect x="187" y="408" width="1" height="93" fill="#00008b"/>
<rect x="191" y="396" width="1" height="105" fill="#00008b"/>
<rect x="195" y="391" width="1" height="110" fill="#00008b"/>
<rect x="199" y="389" width="1" height="112" fill="#00008b"/>
<rect x="203" y="388" width="1" height="113" fill="#00008b"/>
<rect x="207" y="388" width="1" height="113" fill="#00008b"/>
<rect x="211" y="388" width="1" height="113" fill="#00008b"/>
<rect x="215" y="392" width="1" height="109" fill="#00008b"/>
<rect x="219" y="394" width="1" height="107" fill="#00008b"/>
<rect x="223" y="393" width="1" height="108" fill="#00008b"/>
<rect x="227" y="397" width="1" height="104" fill="#00008b"/>
<rect x="231" y="394" width="1" height="107" fill="#00008b"/>
<rect x="235" y="397" width="1" height="104" fill="#00008b"/>
<rect x="239" y="404" width="1" height="97" fill="#00008b"/>
<rect x="243" y="410" width="1" height="91" fill="#00008b"/>
<rect x="247" y="416" width="1" height="85" fill="#00008b"/>
<rect x="251" y="421" width="1" height="80" fill="#00008b"/>
<rect x="255" y="428" width="1" height="73" fill="#00008b"/>
<rect x="259" y="431" width="1" height="70" fill="#00008b"/>
<rect x="263" y="435" width="1" height="66" fill="#00008b"/>
<rect x="267" y="438" width="1" height="63" fill="#00008b"/>
<rect x="271" y="436" width="1" height="65" fill="#00008b"/>
<rect x="275" y="438" width="1" height="63" fill="#00008b"/>
<rect x="279" y="444" width="1" height="57" fill="#00008b"/>
<rect x="283" y="450" width="1" height="51" fill="#00008b"/>
<rect x="287" y="455" width="1" height="46" fill="#00008b"/>
<rect x="291" y="458" width="1" height="43" fill="#00008b"/>
<rect x="295" y="463" width="1" height="38" fill="#00008b"/>
<rect x="299" y="466" width="1" height="35" fill="#00008b"/>
<rect x="303" y="472" width="1" height="29" fill="#00008b"/>
<rect x="307" y="480" width="1" height="21" fill="#00008b"/>
<rect x="311" y="489" width="1" height="12" fill="#00008b"/>
<rect x="315" y="497" width="1" height="4" fill="#00008b"/>
<rect x="319" y="500" width="1" height="2" fill="#00008b"/>
<rect x="323" y="500" width="1" height="2" fill="#00008b"/>
<rect x="327" y="500" width="1" height="2" fill="#00008b"/>
<rect x="331" y="500" width="1" height="1" fill="#00008b"/>
<rect x="335" y="497" width="1" height="4" fill="#00008b"/>
<rect x="339" y="492" width="1" height="9" fill="#00008b"/>
<rect x="343" y="489" width="1" height="12" fill="#00008b"/>
<rect x="347" y="486" width="1" height="15" fill="#00008b"/>
<rect x="351" y="483" width="1" height="18" fill="#00008b"/>
<rect x="355" y="476" width="1" height="25" fill="#00008b"/>
<rect x="359" y="472" width="1" height="29" fill="#00008b"/>
<rect x="363" y="469" width="1" height="32" fill="#00008b"/>
<rect x="367" y="466" width="1" height="35" fill="#00008b"/>
<rect x="371" y="463" width="1" height="38" fill="#00008b"/>
<rect x="375" y="464" width="1" height="37" fill="#00008b"/>
<rect x="379" y="466" width="1" height="35" fill="#00008b"/>
<rect x="383" y="470" width="1" height="31" fill="#00008b"/>
<rect x="387" y="476" width="1" height="25" fill="#00008b"/>
<rect x="391" y="479" width="1" height="22" fill="#00008b"/>
<rect x="395" y="476" width="1" height="25" fill="#00008b"/>
<rect x="399" y="477" width="1" height="24" fill="#00008b"/>
<rect x="403" y="475" width="1" height="26" fill="#00008b"/>
<rect x="407" y="477" width="1" height="24" fill="#00008b"/>
<rect x="411" y="480" width="1" height="21" fill="#00008b"/>
<rect x="415" y="485" width="1" height="16" fill="#00008b"/>
<rect x="419" y="492" width="1" height="9" fill="#00008b"/>
<rect x="423" y="497" width="1" height="4" fill="#00008b"/>
<rect x="427" y="500" width="1" height="1" fill="#00008b"/>
<rect x="431" y="500" width="1" height="1" fill="#00008b"/>
<rect x="435" y="500" width="1" height="1" fill="#00008b"/>
<rect x="439" y="500" width="1" height="1" fill="#00008b"/>
<rect x="443" y="500" width="1" height="1" fill="#00008b"/>
<rect x="447" y="498" width="1" height="3" fill="#00008b"/>
<rect x="451" y="495" width="1" height="6" fill="#00008b"/>
<rect x="455" y="492" width="1" height="9" fill="#00008b"/>
<rect x="459" y="488" width="1" height="13" fill="#00008b"/>
<rect x="463" y="486" width="1" height="15" fill="#00008b"/>
<rect x="467" y="482" width="1" height="19" fill="#00008b"/>
<rect x="471" y="480" width="1" height="21" fill="#00008b"/>
<rect x="475" y="487" width="1" height="14" fill="#00008b"/>
<rect x="479" y="492" width="1" height="9" fill="#00008b"/>
<rect x="483" y="492" width="1" height="9" fill="#00008b"/>
<rect x="487" y="489" width="1" height="12" fill="#00008b"/>
<rect x="491" y="481" width="1" height="20" fill="#00008b"/>
<rect x="495" y="480" width="1" height="21" fill="#00008b"/>
<rect x="499" y="477" width="1" height="24" fill="#00008b"/>
<rect x="503" y="472" width="1" height="29" fill="#00008b"/>
<rect x="507" y="467" width="1" height="34" fill="#00008b"/>
<rect x="511" y="469" width="1" height="32" fill="#00008b"/>
<rect x="515" y="469" width="1" height="32" fill="#00008b"/>
<rect x="519" y="469" width="1" height="32" fill="#00008b"/>
<rect x="523" y="466" width="1" height="35" fill="#00008b"/>
<rect x="527" y="465" width="1" height="36" fill="#00008b"/>
<rect x="531" y="462" width="1" height="39" fill="#00008b"/>
<rect x="535" y="463" width="1" height="38" fill="#00008b"/>
<rect x="539" y="465" width="1" height="36" fill="#00008b"/>
<rect x="543" y="466" width="1" height="35" fill="#00008b"/>
<rect x="547" y="466" width="1" height="35" fill="#00008b"/>
<rect x="551" y="469" width="1" height="32" fill="#00008b"/>
<rect x="555" y="470" width="1" height="31" fill="#00008b"/>
<rect x="559" y="468" width="1" height="33" fill="#00008b"/>
<rect x="563" y="466" width="1" height="35" fill="#00008b"/>
<rect x="567" y="466" width="1" height="35" fill="#00008b"/>
<rect x="571" y="464" width="1" height="37" fill="#00008b"/>
<rect x="575" y="463" width="1" height="38" fill="#00008b"/>
<rect x="579" y="461" width="1" height="40" fill="#00008b"/>
<rect x="583" y="461" width="1" height="40" fill="#00008b"/>
<rect x="587" y="462" width="1" height="39" fill="#00008b"/>
<rect x="591" y="465" width="1" height="36" fill="#00008b"/>
<rect x="595" y="472" width="1" height="29" fill="#00008b"/>
<rect x="599" y="480" width="1" height="21" fill="#00008b"/>
<rect x="603" y="485" width="1" height="16" fill="#00008b"/>
<rect x="607" y="486" width="1" height="15" fill="#00008b"/>
<rect x="611" y="490" width="1" height="11" fill="#00008b"/>
<rect x="615" y="492" width="1" height="9" fill="#00008b"/>
<rect x="619" y="493" width="1" height="8" fill="#00008b"/>
<rect x="623" y="492" width="1" height="9" fill="#00008b"/>
<rect x="627" y="491" width="1" height="10" fill="#00008b"/>
<rect x="631" y="491" width="1" height="10" fill="#00008b"/>
<rect x="635" y="490" width="1" height="11" fill="#00008b"/>
<rect x="639" y="492" width="1" height="9" fill="#00008b"/>
<rect x="643" y="488" width="1" height="13" fill="#00008b"/>
<rect x="647" y="482" width="1" height="19" fill="#00008b"/>
<rect x="651" y="480" width="1" height="21" fill="#00008b"/>
<rect x="655" y="476" width="1" height="25" fill="#00008b"/>
<rect x="659" y="472" width="1" height="29" fill="#00008b"/>
<rect x="663" y="467" width="1" height="34" fill="#00008b"/>
<rect x="667" y="461" width="1" height="40" fill="#00008b"/>
<rect x="671" y="458" width="1" height="43" fill="#00008b"/>
<rect x="675" y="456" width="1" height="45" fill="#00008b"/>
<rect x="679" y="457" width="1" height="44" fill="#00008b"/>
<rect x="683" y="459" width="1" height="42" fill="#00008b"/>
<rect x="687" y="462" width="1" height="39" fill="#00008b"/>
<rect x="691" y="462" width="1" height="39" fill="#00008b"/>
<rect x="695" y="462" width="1" height="39" fill="#00008b"/>
<rect x="699" y="464" width="1" height="37" fill="#00008b"/>
<rect x="703" y="467" width="1" height="34" fill="#00008b"/>
<rect x="707" y="475" width="1" height="26" fill="#00008b"/>
<rect x="711" y="476" width="1" height="25" fill="#00008b"/>
<rect x="715" y="472" width="1" height="29" fill="#00008b"/>
<rect x="719" y="476" width="1" height="25" fill="#00008b"/>
<rect x="723" y="478" width="1" height="23" fill="#00008b"/>
<rect x="727" y="480" width="1" height="21" fill="#00008b"/>
<rect x="731" y="479" width="1" height="22" fill="#00008b"/>
<rect x="735" y="482" width="1" height="19" fill="#00008b"/>
<rect x="739" y="485" width="1" height="16" fill="#00008b"/>
<rect x="743" y="489" width="1" height="12" fill="#00008b"/>
<rect x="747" y="490" width="1" height="11" fill="#00008b"/>
<rect x="751" y="487" width="1" height="14" fill="#00008b"/>
<rect x="755" y="479" width="1" height="22" fill="#00008b"/>
<rect x="759" y="471" width="1" height="30" fill="#00008b"/>
<rect x="763" y="472" width="1" height="29" fill="#00008b"/>
<rect x="767" y="474" width="1" height="27" fill="#00008b"/>
<rect x="771" y="474" width="1" height="27" fill="#00008b"/>
<rect x="775" y="470" width="1" height="31" fill="#00008b"/>
<rect x="779" y="465" width="1" height="36" fill="#00008b"/>
<rect x="783" y="459" width="1" height="42" fill="#00008b"/>
<rect x="787" y="451" width="1" height="50" fill="#00008b"/>
<rect x="791" y="443" width="1" height="58" fill="#00008b"/>
<rect x="795" y="433" width="1" height="68" fill="#00008b"/>
<rect x="799" y="426" width="1" height="75" fill="#00008b"/>
<rect x="803" y="426" width="1" height="75" fill="#00008b"/>
<rect x="807" y="427" width="1" height="74" fill="#00008b"/>
<rect x="811" y="428" width="1" height="73" fill="#00008b"/>
<rect x="815" y="431" width="1" height="70" fill="#00008b"/>
<rect x="819" y="433" width="1" height="68" fill="#00008b"/>
<rect x="823" y="433" width="1" height="68" fill="#00008b"/>
<rect x="827" y="432" width="1" height="69" fill="#00008b"/>
<rect x="831" y="428" width="1" height="73" fill="#00008b"/>
<rect x="835" y="432" width="1" height="69" fill="#00008b"/>
<rect x="839" y="439" width="1" height="62" fill="#00008b"/>
<rect x="843" y="443" width="1" height="58" fill="#00008b"/>
<rect x="847" y="450" width="1" height="51" fill="#00008b"/>
<rect x="851" y="455" width="1" height="46" fill="#00008b"/>
<rect x="855" y="458" width="1" height="43" fill="#00008b"/>
<rect x="859" y="456" width="1" height="45" fill="#00008b"/>
<rect x="863" y="456" width="1" height="45" fill="#00008b"/>
<rect x="867" y="458" width="1" height="43" fill="#00008b"/>
<rect x="871" y="459" width="1" height="42" fill="#00008b"/>
<rect x="875" y="456" width="1" height="45" fill="#00008b"/>
<rect x="879" y="456" width="1" height="45" fill="#00008b"/>
<rect x="883" y="458" width="1" height="43" fill="#00008b"/>
<rect x="887" y="458" width="1" height="43" fill="#00008b"/>
<rect x="891" y="456" width="1" height="45" fill="#00008b"/>
<rect x="895" y="453" width="1" height="48" fill="#00008b"/>
<rect x="899" y="445" width="1" height="56" fill="#00008b"/>
<rect x="903" y="440" width="1" height="61" fill="#00008b"/>
<rect x="907" y="437" width="1" height="64" fill="#00008b"/>
<rect x="911" y="436" width="1" height="65" fill="#00008b"/>
<rect x="915" y="438" width="1" height="63" fill="#00008b"/>
<rect x="919" y="445" width="1" height="56" fill="#00008b"/>
<rect x="923" y="449" width="1" height="52" fill="#00008b"/>
<rect x="927" y="450" width="1" height="51" fill="#00008b"/>
<rect x="931" y="451" width="1" height="50" fill="#00008b"/>
<rect x="935" y="451" width="1" height="50" fill="#00008b"/>
<rect x="939" y="459" width="1" height="42" fill="#00008b"/>
<rect x="943" y="469" width="1" height="32" fill="#00008b"/>
<rect x="947" y="488" width="1" height="13" fill="#00008b"/>
<rect x="951" y="498" width="1" height="3" fill="#00008b"/>
<rect x="955" y="497" width="1" height="4" fill="#00008b"/>
<rect x="959" y="496" width="1" height="5" fill="#00008b"/>
<rect x="963" y="496" width="1" height="5" fill="#00008b"/>
<rect x="967" y="499" width="1" height="2" fill="#00008b"/>
<rect x="971" y="500" width="1" height="5" fill="#00008b"/>
<rect x="975" y="500" width="1" height="8" fill="#00008b"/>
<rect x="979" y="500" width="1" height="13" fill="#00008b"/>
<rect x="983" y="500" width="1" height="19" fill="#00008b"/>
<rect x="987" y="500" width="1" height="21" fill="#00008b"/>
<polyline fill="none" stroke="#c0c0c0" points="3.5,484.7 7.5,484.2 11.5,484.7 15.5,484.4 19.5,483.6 23.5,484.2 27.5,485.1 31.5,484.7 35.5,486.2 39.5,503.2 43.5,508.6 47.5,519.4 51.5,526.4 55.5,529.5 59.5,534.1 63.5,542.6 67.5,550.3 71.5,553.4 75.5,553.4 79.5,551.9 83.5,551.1 87.5,544.9 91.5,545.7 95.5,547.2 99.5,548.8 103.5,549.5 107.5,547.2 111.5,542.6 115.5,538.0 119.5,532.5 123.5,527.9 127.5,524.1 131.5,507.1 135.5,497.0 139.5,480.4 143.5,466.3 147.5,460.2 151.5,462.8 155.5,465.5 159.5,462.0 163.5,452.3 167.5,444.5 171.5,442.7 175.5,440.1 179.5,430.5 183.5,419.1 187.5,407.7 191.5,396.4 195.5,391.1 199.5,389.4 203.5,387.6 207.5,387.6 211.5,388.5 215.5,392.0 219.5,393.7 223.5,392.9 227.5,396.9 231.5,394.1 235.5,397.2 239.5,403.9 243.5,410.4 247.5,415.6 251.5,420.9 255.5,427.9 259.5,431.4 263.5,434.8 267.5,437.5 271.5,436.1 275.5,437.5 279.5,444.5 283.5,449.7 287.5,455.0 291.5,457.6 295.5,462.9 299.5,466.4 303.5,472.5 307.5,480.3 311.5,489.1 315.5,497.0 319.5,501.5 323.5,502.4 327.5,502.2 331.5,500.8 335.5,497.0 339.5,491.7 343.5,489.1 347.5,485.6 351.5,483.0 355.5,476.0 359.5,471.6 363.5,469.0 367.5,465.8 371.5,462.9 375.5,463.7 379.5,466.4 383.5,469.9 387.5,476.0 391.5,478.6 395.5,475.6 399.5,476.8 403.5,474.6 407.5,476.8 411.5,480.3 415.5,484.7 419.5,491.7 423.5,497.0 427.5,500.1 431.5,501.3 435.5,501.3 439.5,500.5 443.5,500.0 447.5,497.8 451.5,494.8 455.5,491.7 459.5,487.6 463.5,486.1 467.5,482.1 471.5,480.3 475.5,487.3 479.5,491.7 483.5,491.7 487.5,489.1 491.5,481.2 495.5,479.5 499.5,476.8 503.5,471.6 507.5,467.2 511.5,469.0 515.5,469.0 519.5,468.6 523.5,466.4 527.5,464.6 531.5,462.3 535.5,463.4 539.5,464.6 543.5,465.8 547.5,466.4 551.5,468.6 555.5,469.9 559.5,467.6 563.5,466.4 567.5,466.4 571.5,463.7 575.5,463.4 579.5,461.1 583.5,460.6 587.5,462.3 591.5,464.6 595.5,472.5 599.5,480.3 603.5,484.7 607.5,486.1 611.5,490.0 615.5,491.7 619.5,492.6 623.5,491.7 627.5,491.4 631.5,491.4 635.5,490.0 639.5,491.7 643.5,488.2 647.5,482.1 651.5,479.5 655.5,476.0 659.5,471.6 663.5,467.2 667.5,461.1 671.5,458.1 675.5,456.4 679.5,457.1 683.5,458.8 687.5,461.6 691.5,461.6 695.5,462.0 699.5,464.1 703.5,467.2 707.5,475.1 711.5,476.0 715.5,472.1 719.5,475.6 723.5,477.7 727.5,479.8 731.5,478.6 735.5,482.1 739.5,485.1 743.5,489.1 747.5,489.6 751.5,486.8 755.5,479.1 759.5,470.7 763.5,471.6 767.5,473.8 771.5,473.8 775.5,470.1 779.5,464.9 783.5,459.1 787.5,451.3 791.5,442.7 795.5,432.8 799.5,425.6 803.5,426.4 807.5,427.0 811.5,428.4 815.5,430.7 819.5,433.1 823.5,432.6 827.5,431.7 831.5,427.9 835.5,431.7 839.5,438.9 843.5,443.1 847.5,450.1 851.5,455.0 855.5,457.6 859.5,455.9 863.5,455.6 867.5,457.9 871.5,458.7 875.5,455.9 879.5,456.4 883.5,457.5 887.5,457.5 891.5,456.2 895.5,453.0 899.5,445.1 903.5,439.9 907.5,436.7 911.5,435.5 915.5,437.6 919.5,444.8 923.5,448.9 927.5,450.1 931.5,450.7 935.5,450.9 939.5,459.1 943.5,468.7 947.5,488.0 951.5,498.3 955.5,497.4 959.5,495.5 963.5,496.5 967.5,499.3 971.5,505.3 975.5,508.4 979.5,513.4 983.5,519.1 987.5,521.0"/>
<polyline fill="none" stroke="#000" points="2.6,480.5 15,483.1 36.6,484.7 42.7,487.8 48.9,493.9 55.1,500.9 61.3,510.9 67.5,522.5 73.6,533.3 79.8,541 86,544.9 92.2,547.2 99.9,549.5 107.6,548.5 115.3,546 121.5,541.8 127.7,538.7 133.9,531.8 138.5,522.5 144.7,508.6 150.8,494.7 159.4,480 167.2,465.5 176,453.2 183.6,448 187,439.5 190.6,430.1 195,422 200,413.8 204.5,406.5 209.3,399.8 216.3,393.4 223.3,390.7 230.3,390.7 238.5,393.7 240,395 249.3,400.2 257.5,408.4 265.7,416.6 270.3,423.6 275,426.5 286.6,438.7 297.1,447.5 305.3,455.6 310.6,463 315,469.9 323.7,481.2 332.5,490 339.5,495.2 345.6,496.6 351.7,494.3 358.7,489.1 367.5,480.3 376.2,473.4 385,468.6 393.7,468.5 402.4,470.7 412.9,474.2 423.4,480.3 433.9,488.2 440,493.5 447,497 454,498.7 461,496.1 469.7,491.4 478.5,488.6 487.2,487.3 497.7,484.7 508.2,480.3 517,476 525.7,470.7 534.5,466.4 545,465.5 562.4,465.8 579.9,465.8 590.4,464.6 597.4,464.6 602.7,466.4 608.7,471.6 617.5,479.5 626.2,486.1 635,489.6 643.7,490.5 652.5,487.3 661.2,482.6 670,476 678.7,467.2 687.5,462 694.5,460.6 699.7,459.4 705,461.1 713.7,465.1 722.4,468.6 732.9,474.2 743.4,479.5 752.2,482.1 762.7,481.2 771.4,478.6 775,477.1 779.7,474.2 786.7,466.6 798.3,455 807.7,442.7 817,434 824,430.3 831,428.4 838,429.6 845,433.4 854.3,439.8 862.5,444.5 868.3,449.7 875.3,454.4 882.3,456.2 889.3,456.7 895.2,456.3 901,454.2 909.2,448.9 919.7,443.7 926.6,443.1 931.3,442.3 936,443.1 940.6,445.8 945.3,450.4 950,458.8 955.8,467 961.6,474 967.5,482.7 973.9,493 981.2,501.2 987.2,505.9"/>
<line x1="807" y1="427.1" x2="999.5" y2="442.4" stroke="#ff0000"/>
</g>
<rect x="2" y="2" width="998" height="1" fill="#000"/>
<rect x="2" y="375" width="998" height="1" fill="#000"/>
<rect x="2" y="377" width="998" height="1" fill="#000"/>
<rect x="2" y="562" width="999" height="1" fill="#000"/>
<rect x="2" y="2" width="1" height="374" fill="#000"/>
<rect x="2" y="377" width="1" height="186" fill="#000"/>
<rect x="999" y="2" width="1" height="374" fill="#000"/>
<rect x="999" y="377" width="1" height="186" fill="#000"/>
<rect x="1000" y="9" width="2" height="1" fill="#000"/>
<rect x="1000" y="42" width="2" height="1" fill="#000"/>
<rect x="1000" y="108" width="2" height="1" fill="#000"/>
<rect x="1000" y="141" width="2" height="1" fill="#000"/>
<rect x="1000" y="174" width="2" height="1" fill="#000"/>
<rect x="1000" y="207" width="2" height="1" fill="#000"/>
<rect x="1000" y="240" width="2" height="1" fill="#000"/>
<rect x="1000" y="273" width="2" height="1" fill="#000"/>
<rect x="1000" y="306" width="2" height="1" fill="#000"/>
<rect x="1000" y="339" width="2" height="1" fill="#000"/>
<rect x="1000" y="372" width="2" height="1" fill="#000"/>
<rect x="1000" y="77" width="2" height="1" fill="#000"/>
<rect x="1000" y="379" width="1" height="1" fill="#000"/>
<rect x="1000" y="500" width="2" height="1" fill="#000"/>
<rect x="3" y="563" width="1" height="3" fill="#000"/>
<rect x="67" y="563" width="1" height="3" fill="#000"/>
<rect x="131" y="563" width="1" height="3" fill="#000"/>
<rect x="195" y="563" width="1" height="3" fill="#000"/>
<rect x="259" y="563" width="1" height="3" fill="#000"/>
<rect x="323" y="563" width="1" height="3" fill="#000"/>
<rect x="387" y="563" width="1" height="3" fill="#000"/>
<rect x="451" y="563" width="1" height="3" fill="#000"/>
<rect x="515" y="563" width="1" height="3" fill="#000"/>
<rect x="579" y="563" width="1" height="3" fill="#000"/>
<rect x="643" y="563" width="1" height="3" fill="#000"/>
<rect x="707" y="563" width="1" height="3" fill="#000"/>
<rect x="771" y="563" width="1" height="3" fill="#000"/>
<rect x="835" y="563" width="1" height="3" fill="#000"/>
<rect x="899" y="563" width="1" height="3" fill="#000"/>
<rect x="963" y="563" width="1" height="3" fill="#000"/>
<rect x="1001" y="14" width="41" height="11" fill="#ff0000"/>
<rect x="1001" y="44" width="41" height="11" fill="#ff0000"/>
<rect x="1001" y="72" width="41" height="11" fill="#000"/>
</g>
<text x="1005.3" y="13" textLength="33.3" lengthAdjust="spacingAndGlyphs">0.76610</text>
<text x="1005.3" y="46" textLength="33.3" lengthAdjust="spacingAndGlyphs">0.75995</text>
<text x="1005.3" y="112" textLength="33.3" lengthAdjust="spacingAndGlyphs">0.74750</text>
<text x="1005.3" y="145" textLength="33.3" lengthAdjust="spacingAndGlyphs">0.74135</text>
<text x="1005.3" y="178" textLength="33.3" lengthAdjust="spacingAndGlyphs">0.73505</text>
<text x="1005.3" y="211" textLength="33.3" lengthAdjust="spacingAndGlyphs">0.72890</text>
<text x="1005.3" y="244" textLength="33.3" lengthAdjust="spacingAndGlyphs">0.72275</text>
<text x="1005.3" y="277" textLength="33.3" lengthAdjust="spacingAndGlyphs">0.71645</text>
<text x="1005.3" y="310" textLength="33.3" lengthAdjust="spacingAndGlyphs">0.71030</text>
<text x="1005.3" y="343" textLength="33.3" lengthAdjust="spacingAndGlyphs">0.70400</text>
<text x="1005.3" y="376" textLength="33.3" lengthAdjust="spacingAndGlyphs">0.69785</text>
<text x="1005.3" y="23" textLength="33.3" lengthAdjust="spacingAndGlyphs" style="fill:#fff">0.76401</text>
<text x="1005.3" y="53" textLength="33.3" lengthAdjust="spacingAndGlyphs" style="fill:#fff">0.75838</text>
<text x="1005.3" y="81" textLength="33.3" lengthAdjust="spacingAndGlyphs" style="fill:#fff">0.75334</text>
<text x="1003" y="388" textLength="38.5" lengthAdjust="spacingAndGlyphs">0.005413</text>
<text x="1003.2" y="504" textLength="17.8" lengthAdjust="spacingAndGlyphs">0.00</text>
<text x="1003.3" y="559" textLength="41" lengthAdjust="spacingAndGlyphs">-0.002753</text>
<text x="7.7" y="14" textLength="54.8" lengthAdjust="spacingAndGlyphs">AUDUSD,H4</text>
<text x="68.5" y="14" textLength="33.7" lengthAdjust="spacingAndGlyphs">0.75184</text>
<text x="104.5" y="14" textLength="33.300000000000004" lengthAdjust="spacingAndGlyphs">0.75334</text>
<text x="140.5" y="14" textLength="33.300000000000004" lengthAdjust="spacingAndGlyphs">0.75145</text>
<text x="176.6" y="14" textLength="33.6" lengthAdjust="spacingAndGlyphs">0.75334</text>
<text x="6.8999999999999995" y="390" textLength="66.10000000000001" lengthAdjust="spacingAndGlyphs">MACD(12,26,9)</text>
<text x="75.69999999999999" y="390" textLength="41.2" lengthAdjust="spacingAndGlyphs">-0.000935</text>
<text x="119.6" y="390" textLength="41.7" lengthAdjust="spacingAndGlyphs">-0.000270</text>
<text x="167.5" y="390" textLength="35.300000000000004" lengthAdjust="spacingAndGlyphs">-&gt;MA(1)</text>
<text x="209.0" y="390" textLength="38.2" lengthAdjust="spacingAndGlyphs">0.000935</text>
<text x="1.9" y="575" textLength="51.0" lengthAdjust="spacingAndGlyphs">27 Oct 2020</text>
<text x="65.9" y="575" textLength="54.300000000000004" lengthAdjust="spacingAndGlyphs">29 Oct 16:00</text>
<text x="129.9" y="575" textLength="52.6" lengthAdjust="spacingAndGlyphs">3 Nov 08:00</text>
<text x="193.9" y="575" textLength="52.300000000000004" lengthAdjust="spacingAndGlyphs">6 Nov 00:00</text>
<text x="257.9" y="575" textLength="57.0" lengthAdjust="spacingAndGlyphs">10 Nov 16:00</text>
<text x="321.9" y="575" textLength="57.2" lengthAdjust="spacingAndGlyphs">13 Nov 08:00</text>
<text x="385.9" y="575" textLength="57.300000000000004" lengthAdjust="spacingAndGlyphs">18 Nov 00:00</text>
<text x="449.9" y="575" textLength="56.900000000000006" lengthAdjust="spacingAndGlyphs">20 Nov 16:00</text>
<text x="513.9" y="575" textLength="57.6" lengthAdjust="spacingAndGlyphs">25 Nov 08:00</text>
<text x="577.9" y="575" textLength="57.6" lengthAdjust="spacingAndGlyphs">30 Nov 00:00</text>
<text x="641.9" y="575" textLength="49.900000000000006" lengthAdjust="spacingAndGlyphs">2 Dec 16:00</text>
<text x="705.9" y="575" textLength="50.7" lengthAdjust="spacingAndGlyphs">7 Dec 08:00</text>
<text x="769.9" y="575" textLength="55.300000000000004" lengthAdjust="spacingAndGlyphs">10 Dec 00:00</text>
<text x="833.9" y="575" textLength="54.6" lengthAdjust="spacingAndGlyphs">14 Dec 16:00</text>
<text x="897.9" y="575" textLength="55.0" lengthAdjust="spacingAndGlyphs">17 Dec 08:00</text>
<text x="961.9" y="575" textLength="55.0" lengthAdjust="spacingAndGlyphs">22 Dec 00:00</text>
</svg></body></html>
